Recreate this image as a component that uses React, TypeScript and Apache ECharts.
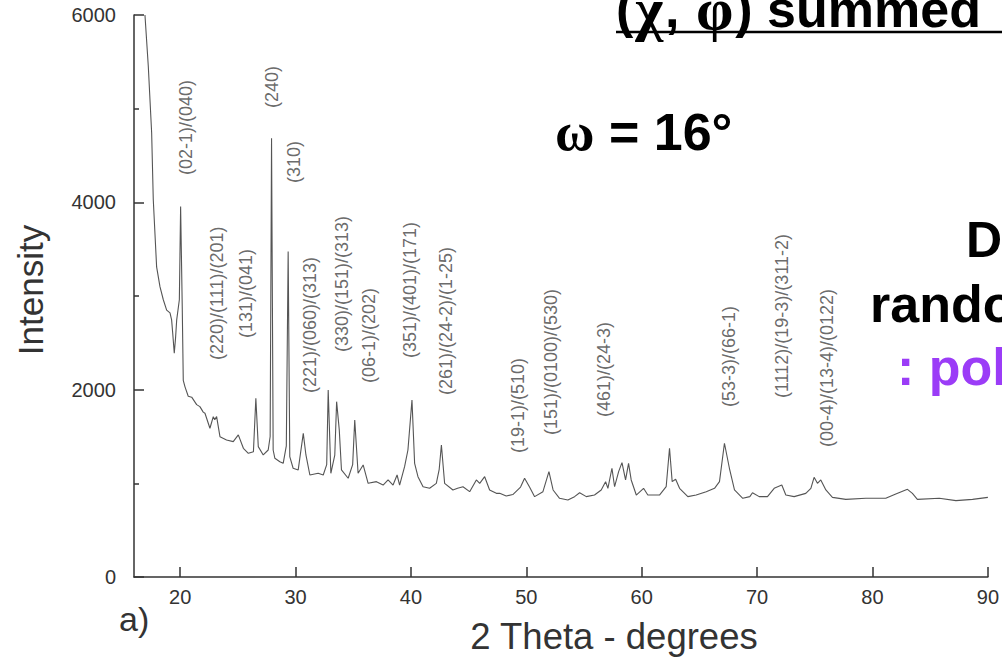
import React, { useEffect, useRef } from "react";
import * as echarts from "echarts";

const twoTheta = [
  16.95, 17.24, 17.53, 17.67, 17.96, 18.25, 18.54, 18.83, 19.12, 19.26, 19.35, 19.49, 19.6, 19.7, 19.93,
  20.04, 20.18, 20.27, 20.42, 20.7, 21.0, 21.43, 21.71, 22.0, 22.15, 22.58, 22.87, 23.0, 23.16, 23.45,
  24.02, 24.6, 25.04, 25.48, 25.91, 26.35, 26.56, 26.77, 27.2, 27.63, 27.8, 27.92, 28.06, 28.21, 28.64,
  28.93, 29.2, 29.36, 29.5, 29.79, 30.23, 30.67, 30.9, 31.24, 31.96, 32.4, 32.7, 32.83, 33.06, 33.4,
  33.56, 33.79, 33.98, 34.56, 34.95, 35.13, 35.42, 35.86, 36.29, 37.01, 37.59, 38.02, 38.45, 38.8, 39.02,
  39.45, 39.74, 40.09, 40.32, 40.61, 41.05, 41.62, 42.2, 42.45, 42.64, 42.92, 43.64, 44.04, 44.51, 45.09,
  45.67, 45.96, 46.39, 46.82, 47.4, 47.69, 48.26, 48.83, 49.5, 49.85, 50.29, 50.72, 51.44, 51.96, 52.32,
  52.88, 53.6, 54.18, 54.62, 55.2, 55.91, 56.49, 56.87, 57.07, 57.42, 57.65, 58.0, 58.29, 58.6, 58.86,
  59.09, 59.53, 60.16, 60.53, 61.54, 62.12, 62.41, 62.64, 62.94, 63.28, 64.0, 64.72, 65.59, 66.31, 66.74,
  67.17, 67.6, 68.04, 68.76, 69.37, 69.6, 70.18, 70.9, 71.48, 72.14, 72.49, 73.21, 74.22, 74.66, 74.94,
  75.23, 75.52, 75.96, 76.53, 77.69, 79.42, 81.15, 82.02, 83.03, 83.46, 83.89, 85.79, 87.23, 88.67, 90.0,
];
const intensity = [
  6000, 5450, 4740, 4030, 3310, 3100, 2960, 2850, 2820, 2745, 2610, 2390, 2550, 2745, 2960,
  3955, 2890, 2100, 2030, 1930, 1920, 1840, 1819, 1760, 1748, 1588, 1712, 1680, 1712, 1498,
  1463, 1445, 1517, 1374, 1321, 1338, 1908, 1392, 1303, 1356, 1500, 4685, 1356, 1267, 1231,
  1214, 1400, 3474, 1285, 1161, 1143, 1534, 1303, 1089, 1107, 1089, 1200, 1997, 1107, 1300,
  1872, 1570, 1143, 1054, 1200, 1677, 1107, 1196, 1000, 1018, 982, 1036, 982, 1089, 982,
  1178, 1356, 1890, 1214, 1071, 964, 947, 1000, 1150, 1410, 1000, 929, 947, 964, 911,
  1036, 1000, 1071, 929, 893, 893, 865, 880, 960, 1054, 958, 858, 911, 1125, 929,
  840, 822, 858, 900, 858, 875, 929, 1018, 947, 1161, 964, 1125, 1221, 1036, 1214,
  1036, 875, 947, 875, 875, 964, 1374, 1018, 1043, 947, 858, 875, 911, 947, 1018,
  1428, 1161, 929, 840, 858, 900, 858, 858, 947, 982, 875, 858, 893, 947, 1064,
  1000, 1036, 929, 850, 829, 840, 840, 886, 936, 893, 829, 840, 815, 829, 850,
];

// Miller index annotations: text, 2θ anchor, intensity at the label's start
const peakLabels = [
  "(02-1)/(040)", "(240)", "(310)", "(220)/(111)/(201)", "(131)/(041)", "(221)/(060)/(313)",
  "(330)/(151)/(313)", "(06-1)/(202)", "(351)/(401)/(171)", "(261)/(24-2)/(1-25)", "(19-1)/(510)",
  "(151)/(0100)/(530)", "(461)/(24-3)", "(53-3)/(66-1)", "(1112)/(19-3)/(311-2)", "(00-4)/(13-4)/(0122)",
];
const peakLabelX = [20.52, 27.93, 29.86, 23.17, 25.71, 31.25, 33.99, 36.35, 39.9, 43.07, 49.24, 52.16, 56.77, 67.59, 72.17, 76.07];
const peakLabelY = [4292, 5007, 4206, 2317, 2552, 1964, 2402, 2071, 2338, 1943, 1324, 1516, 1708, 1815, 1911, 1388];

const yTicks = [0, 2000, 4000, 6000];

export default function App() {
  const ref = useRef<HTMLDivElement>(null);
  useEffect(() => {
    if (!ref.current) return;
    const chart = echarts.init(ref.current, null, { renderer: "svg" });
    const lineData = twoTheta.map((x, i) => [x, intensity[i]]);
    const labelData = peakLabels.map((t, i) => ({ value: [peakLabelX[i], peakLabelY[i]], name: t }));
    const axisColor = "#333";
    const sans = "Liberation Sans, Arial, sans-serif";
    chart.setOption({
      animation: false,
      backgroundColor: "#fff",
      grid: { left: 134, right: 13, top: 15, bottom: 83 },
      xAxis: {
        type: "value",
        min: 16,
        max: 90,
        splitNumber: 7,
        axisLine: { lineStyle: { color: axisColor, width: 1.5 } },
        axisTick: { inside: true, length: 10, lineStyle: { color: axisColor, width: 1.5 } },
        axisLabel: { showMinLabel: false, color: axisColor, fontSize: 20, margin: 10, fontFamily: sans },
        splitLine: { show: false },
      },
      yAxis: {
        type: "value",
        min: yTicks[0],
        max: yTicks[yTicks.length - 1],
        interval: yTicks[1] - yTicks[0],
        axisLine: { show: true, onZero: false, lineStyle: { color: axisColor, width: 1.5 } },
        axisTick: { show: true, inside: true, length: 10, lineStyle: { color: axisColor, width: 1.5 } },
        minorTick: { show: true, splitNumber: 2, length: 5, lineStyle: { color: axisColor, width: 1.5 } },
        axisLabel: {
          color: axisColor,
          fontSize: 20,
          margin: 18,
          fontFamily: sans,
          formatter: (v: number) => String(v),
        },
        splitLine: { show: false },
      },
      series: [
        {
          type: "line",
          data: lineData,
          showSymbol: false,
          symbol: "none",
          lineStyle: { color: "#555", width: 1.1 },
          silent: true,
          z: 2,
        },
        {
          type: "scatter",
          data: labelData,
          symbolSize: 1,
          itemStyle: { color: "rgba(0,0,0,0)" },
          silent: true,
          label: {
            show: true,
            position: "inside",
            rotate: 90,
            align: "left",
            verticalAlign: "middle",
            formatter: (p: any) => p.name,
            color: "#444",
            fontSize: 18,
            fontFamily: sans,
          },
          labelLayout: { hideOverlap: false },
          z: 3,
        },
      ],
      graphic: [
        {
          type: "text",
          x: 30,
          y: 290,
          rotation: Math.PI / 2,
          style: { text: "Intensity", fontSize: 35, fontFamily: sans, fill: "#333", align: "center", verticalAlign: "middle" },
        },
        {
          type: "text",
          x: 614,
          y: 636,
          style: { text: "2 Theta - degrees", fontSize: 36.5, fontFamily: sans, fill: "#333", align: "center", verticalAlign: "middle" },
        },
        {
          type: "text",
          x: 119,
          y: 619,
          style: { text: "a)", fontSize: 34, fontFamily: sans, fill: "#333", align: "left", verticalAlign: "middle" },
        },
        {
          type: "text",
          x: 616,
          y: 9,
          style: {
            text: "{p|(}{g|χ}{p|, }{g|φ}{p|) summed}",
            align: "left",
            verticalAlign: "middle",
            rich: {
              p: { fontSize: 52, fontWeight: "bold", fontFamily: sans, fill: "#000" },
              g: { fontSize: 60, fontWeight: "bold", fontFamily: "Liberation Serif, serif", fill: "#000", padding: [0, 2] },
            },
          },
        },
        {
          type: "line",
          shape: { x1: 616, y1: 32, x2: 1002, y2: 32 },
          style: { stroke: "#000", lineWidth: 2.5 },
        },
        {
          type: "text",
          x: 555,
          y: 132,
          style: {
            text: "{g|ω}{p| = 16°}",
            align: "left",
            verticalAlign: "middle",
            rich: {
              p: { fontSize: 52, fontWeight: "bold", fontFamily: sans, fill: "#000" },
              g: { fontSize: 54, fontWeight: "bold", fontFamily: "Liberation Serif, serif", fill: "#000" },
            },
          },
        },
        {
          type: "text",
          x: 966,
          y: 240,
          style: { text: "D", fontSize: 50, fontWeight: "bold", fontFamily: sans, fill: "#000", align: "left", verticalAlign: "middle" },
        },
        {
          type: "text",
          x: 870,
          y: 304,
          style: { text: "rando", fontSize: 52, fontWeight: "bold", fontFamily: sans, fill: "#000", align: "left", verticalAlign: "middle" },
        },
        {
          type: "text",
          x: 897,
          y: 367,
          style: { text: ": pol", fontSize: 52, fontWeight: "bold", fontFamily: sans, fill: "#9b3cf7", align: "left", verticalAlign: "middle" },
        },
      ],
    });
    return () => chart.dispose();
  }, []);
  return (
    <div
      ref={ref}
      style={{ position: "fixed", left: 0, top: 0, width: 1002, height: 660, background: "#fff" }}
    />
  );
}
